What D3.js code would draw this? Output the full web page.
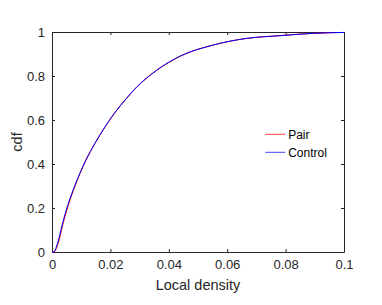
<!DOCTYPE html>
<html>
<head>
<meta charset="utf-8">
<script src="https://cdn.jsdelivr.net/npm/d3@7"></script>
<style>
  html, body { margin: 0; padding: 0; background: #fff; }
  svg { display: block; font-family: "Liberation Sans", Arial, sans-serif; }
</style>
</head>
<body>
<div id="chart"></div>
<script>
// values
const densityX = [0, 0.0006, 0.002, 0.004, 0.0056, 0.0079, 0.0096, 0.0116, 0.0147, 0.0182, 0.0216, 0.025, 0.029, 0.0359, 0.0438, 0.0553, 0.0667, 0.0781, 0.0895, 0.1];
const pairCdf = [0, 0, 0.035, 0.14, 0.213, 0.3, 0.357, 0.416, 0.493, 0.569, 0.634, 0.69, 0.749, 0.826, 0.889, 0.941, 0.971, 0.984, 0.994, 0.998];
const controlCdf = [0, 0, 0.045, 0.15, 0.221, 0.305, 0.36, 0.418, 0.494, 0.57, 0.635, 0.691, 0.75, 0.827, 0.89, 0.941, 0.971, 0.983, 0.994, 0.998];
const xTicks = [0, 0.02, 0.04, 0.06, 0.08, 0.1];
const yTicks = [0, 0.2, 0.4, 0.6, 0.8, 1];
const seriesNames = ["Pair", "Control"];
const seriesColors = ["#ff0000", "#0000ff"];

const W = 382, H = 305;
const margin = { top: 32, right: 38, bottom: 53, left: 52 };
const width = W - margin.left - margin.right;
const height = H - margin.top - margin.bottom;

const svg = d3.select("#chart").append("svg")
    .attr("width", W)
    .attr("height", H);

const g = svg.append("g")
    .attr("transform", `translate(${margin.left},${margin.top})`);

const x = d3.scaleLinear().domain([0, 0.1]).range([0, width]);
const y = d3.scaleLinear().domain([0, 1]).range([height, 0]);

const fmt = d => d === 0 ? "0" : d === 1 ? "1" : String(+d.toFixed(2));
const axisColor = "#262626";

// box + inward ticks, matlab style
function styleAxis(sel) {
    sel.select(".domain").attr("stroke", axisColor);
    sel.selectAll(".tick line").attr("stroke", axisColor);
    sel.selectAll("text").attr("fill", axisColor).attr("font-size", 13);
}

g.append("g")
    .attr("transform", `translate(0,${height})`)
    .call(d3.axisBottom(x).tickValues(xTicks).tickFormat(fmt).tickSizeInner(-3).tickSizeOuter(0).tickPadding(8))
    .call(styleAxis);

g.append("g")
    .call(d3.axisTop(x).tickValues(xTicks).tickFormat("").tickSizeInner(-3).tickSizeOuter(0))
    .call(styleAxis);

g.append("g")
    .call(d3.axisLeft(y).tickValues(yTicks).tickFormat(fmt).tickSizeInner(-3).tickSizeOuter(0).tickPadding(7))
    .call(styleAxis);

g.append("g")
    .attr("transform", `translate(${width},0)`)
    .call(d3.axisRight(y).tickValues(yTicks).tickFormat("").tickSizeInner(-3).tickSizeOuter(0))
    .call(styleAxis);

const line = d3.line()
    .x(d => x(d[0]))
    .y(d => y(d[1]))
    .curve(d3.curveMonotoneX);

[pairCdf, controlCdf].forEach((vals, i) => {
    g.append("path")
        .datum(densityX.map((v, j) => [v, vals[j]]))
        .attr("fill", "none")
        .attr("stroke", seriesColors[i])
        .attr("stroke-width", 1)
        .attr("d", line);
});

// legend (no box)
const legend = g.append("g").attr("transform", `translate(${x(0.073)},${y(0.535)})`);
seriesNames.forEach((name, i) => {
    const row = legend.append("g").attr("transform", `translate(0,${i * 18})`);
    row.append("line")
        .attr("x1", 0).attr("x2", 20)
        .attr("stroke", seriesColors[i])
        .attr("stroke-opacity", 0.75)
        .attr("stroke-width", 1);
    row.append("text")
        .attr("x", 23).attr("dy", "0.35em")
        .attr("font-size", 12)
        .attr("fill", "#000")
        .text(name);
});

g.append("text")
    .attr("text-anchor", "middle")
    .attr("x", width / 2)
    .attr("y", height + 38)
    .attr("font-size", 14.5)
    .attr("fill", axisColor)
    .text("Local density");

g.append("text")
    .attr("text-anchor", "middle")
    .attr("transform", "rotate(-90)")
    .attr("x", -height / 2)
    .attr("y", -30)
    .attr("font-size", 14.5)
    .attr("fill", axisColor)
    .text("cdf");
</script>
</body>
</html>
